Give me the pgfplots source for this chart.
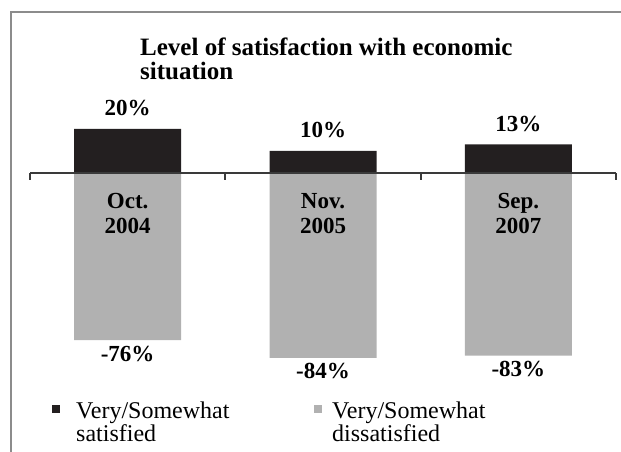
\documentclass[border=0pt]{standalone}
\usepackage{fontspec}
\setmainfont{Liberation Serif}
\usepackage{pgfplots}
\pgfplotsset{compat=1.18}
\definecolor{barblack}{HTML}{231F20}
\definecolor{bargray}{HTML}{B1B1B1}
\definecolor{framegray}{HTML}{8C8C8C}
\definecolor{axisgray}{HTML}{3A3A3A}
\newcommand{\titlef}{\fontsize{25}{23}\selectfont}
\newcommand{\labf}{\fontsize{23}{25}\selectfont}
\newcommand{\legf}{\fontsize{24}{22}\selectfont}
\pgfplotsset{
  legA/.style={legend image code/.code={\fill[##1] (0pt,-3pt) rectangle (8pt,5pt); \path[draw=none,fill=none] (0pt,0pt) -- (22pt,0pt);}},
  legB/.style={legend image code/.code={\fill[##1] (0pt,-3pt) rectangle (8pt,5pt); \path[draw=none,fill=none] (0pt,0pt) -- (16pt,0pt);}},
}
\begin{document}
\begin{tikzpicture}
\path[use as bounding box] (0pt,0pt) rectangle (621pt,452pt);
\draw[framegray, line width=1.3pt] (11pt,0pt) -- (11pt,440pt) -- (621pt,440pt);
\node[anchor=base west, font=\titlef\bfseries, inner sep=0pt] at (140pt,396pt) {Level of satisfaction with economic};
\node[anchor=base west, font=\titlef\bfseries, inner sep=0pt] at (140pt,372pt) {situation};
\begin{axis}[
  at={(30pt,59pt)}, anchor=south west,
  scale only axis, width=586pt, height=308pt,
  xmin=-0.5, xmax=2.5, ymin=-100, ymax=40,
  ybar, bar width=107pt, bar shift=0pt,
  axis x line=middle, axis y line=none,
  axis line style={axisgray, line width=1.8pt, -},
  xtick={0,1,2}, xticklabels={Oct.\\2004, Nov.\\2005, Sep.\\2007},
  major tick length=0pt,
  extra x ticks={-0.5,0.5,1.5,2.5}, extra x tick labels={},
  extra x tick style={major tick length=7pt, tick align=outside, tick style={axisgray, line width=1.8pt}},
  xticklabel style={font=\labf\bfseries, align=center, yshift=-17pt},
  axis on top,
  legend columns=2,
  legend style={at={(axis description cs:0.0375,-0.02)}, anchor=north west, draw=none, fill=none, inner sep=0pt, font=\legf},
]
\addplot[fill=barblack, draw=none, legA,
  nodes near coords={\pgfmathprintnumber[assume math mode=true]{\pgfplotspointmeta}\%},
  nodes near coords style={font=\labf\bfseries, anchor=base, yshift=13pt}]
  coordinates {(0,20) (1,10) (2,13)};
\addlegendentry{\parbox[t]{236pt}{Very/Somewhat\\satisfied}}
\addplot[fill=bargray, draw=none, legB,
  nodes near coords={\pgfmathprintnumber[assume math mode=true]{\pgfplotspointmeta}\%},
  nodes near coords style={font=\labf\bfseries, anchor=base, yshift=-21pt}]
  coordinates {(0,-76) (1,-84) (2,-83)};
\addlegendentry{\parbox[t]{200pt}{Very/Somewhat\\dissatisfied}}
\end{axis}
\end{tikzpicture}
\end{document}
